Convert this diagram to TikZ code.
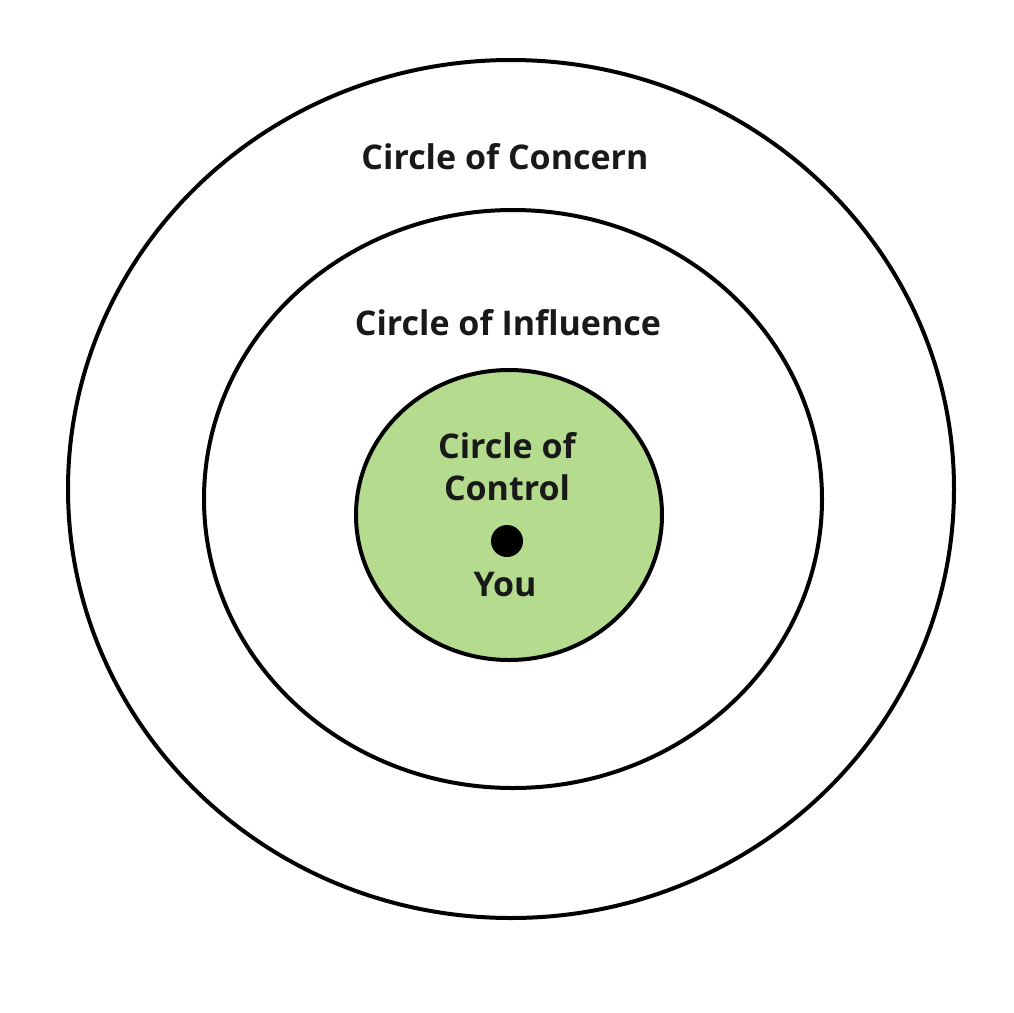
\documentclass[tikz,border=0pt]{standalone}
\usepackage{fontspec}
\setmainfont{Open Sans}
\definecolor{ctrl}{HTML}{B5DC8E}
\begin{document}
\begin{tikzpicture}[x=1pt,y=-1pt,
  ring/.style={draw=black,line width=4pt},
  lbl/.style={font=\fontsize{34}{42}\selectfont\bfseries,inner sep=0pt,align=center,text=black!90}]
\useasboundingbox (0,0) rectangle (1013,1013);
\draw[ring] (511,489) ellipse [x radius=443,y radius=429];
\draw[ring] (513,499) ellipse [x radius=309,y radius=289];
\draw[ring,fill=ctrl] (509,515) ellipse [x radius=153,y radius=145];
\node[lbl] (concern) at (505,157) {Circle of Concern};
\node[lbl] (influence) at (508,323) {Circle of Influence};
\node[lbl] (control) at (507,467) {Circle of\\Control};
\fill (507,541) circle [radius=16];
\node[lbl] (you) at (505,585) {You};
\end{tikzpicture}
\end{document}
